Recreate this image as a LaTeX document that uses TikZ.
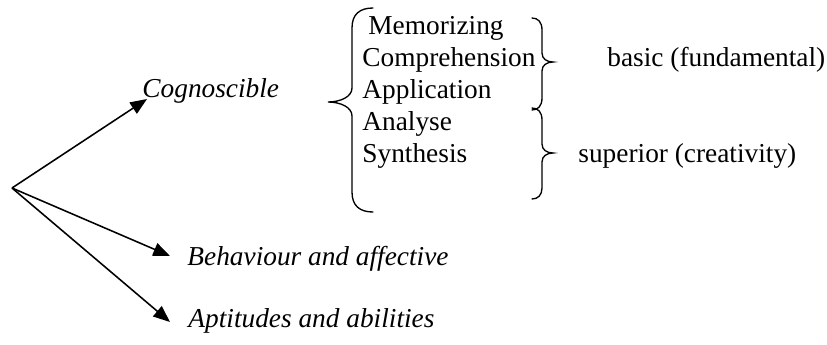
\documentclass[tikz,border=0pt]{standalone}
\usepackage{fontspec}
\setmainfont{Liberation Serif}
\usetikzlibrary{arrows.meta}
\begin{document}
\begin{tikzpicture}[x=0.45pt,y=-0.45pt,
  txt/.style={anchor=base west,inner sep=0pt,font=\fontsize{12.3pt}{14pt}\selectfont},
  cat/.style={txt,font=\fontsize{12.3pt}{14pt}\selectfont\itshape},
  arr/.style={line width=0.7pt,-{Triangle[length=7.5pt,width=6pt]}},
  brace/.style={line width=0.6pt,line cap=round}]
\useasboundingbox (0,0) rectangle (827,345);
% origin and arrow tips
\coordinate (o) at (12,188);
\coordinate (t1) at (147,99);
\coordinate (t2) at (170,256);
\coordinate (t3) at (170,322);
% category labels
\node[cat] (cog) at (142,97) {Cognoscible};
\node[cat] (beh) at (187,265) {Behaviour and affective};
\node[cat] (apt) at (188,327) {Aptitudes and abilities};
\draw[arr] (o) -- (t1);
\draw[arr] (o) -- (t2);
\draw[arr] (o) -- (t3);
% list
\node[txt] (mem) at (368,34) {Memorizing};
\node[txt] (com) at (362,66) {Comprehension};
\node[txt] (app) at (362,98) {Application};
\node[txt] (ana) at (362,130) {Analyse};
\node[txt] (syn) at (362,162) {Synthesis};
\node[txt] (basic) at (607,66) {basic (fundamental)};
\node[txt] (sup) at (578,162) {superior (creativity)};
% left brace
\draw[brace] (373,8) .. controls (360,8) and (352,14) .. (352,28) -- (352,88)
  .. controls (352,97) and (340,102) .. (328,102)
  .. controls (340,102) and (352,107) .. (352,116) -- (352,192)
  .. controls (352,206) and (360,212) .. (373,212);
% right brace 1
\draw[brace] (532,18) .. controls (538,18) and (542,22) .. (542,30) -- (542,53)
  .. controls (542,59) and (547,62) .. (553,62)
  .. controls (547,62) and (542,65) .. (542,71) -- (542,98)
  .. controls (542,106) and (538,110) .. (532,110);
% right brace 2
\draw[brace] (532,108) .. controls (538,108) and (542,112) .. (542,120) -- (542,144)
  .. controls (542,150) and (547,153) .. (553,153)
  .. controls (547,153) and (542,156) .. (542,162) -- (542,188)
  .. controls (542,195) and (538,199) .. (532,199);
\end{tikzpicture}
\end{document}
